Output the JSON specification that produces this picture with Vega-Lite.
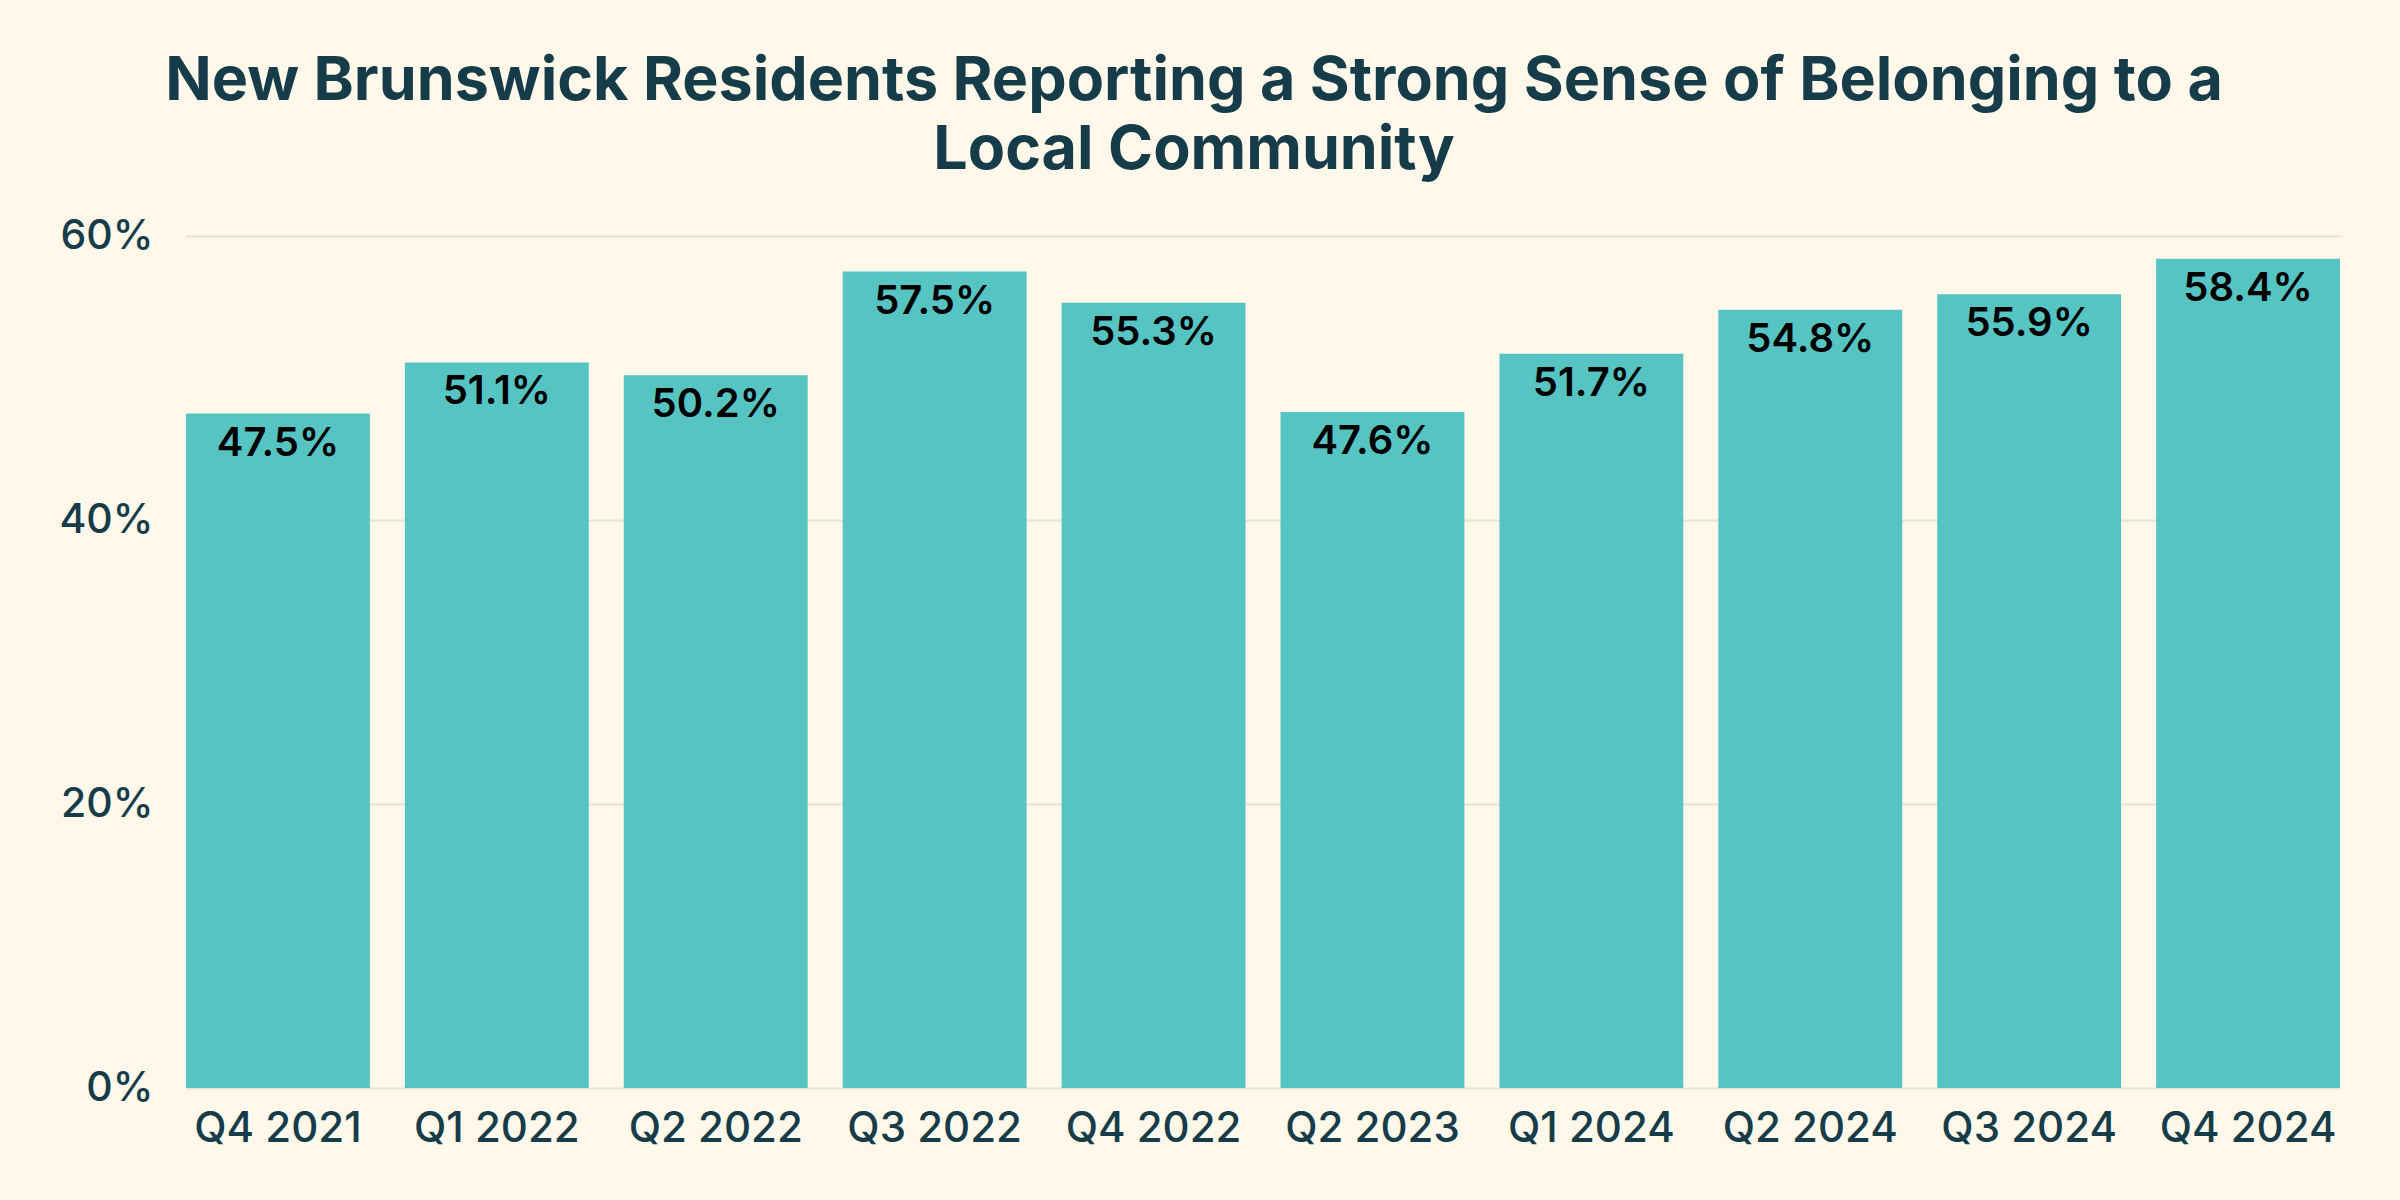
{
  "$schema": "https://vega.github.io/schema/vega-lite/v6.json",
  "autosize": "none",
  "width": 2154,
  "height": 852,
  "padding": {"left": 186, "top": 236, "right": 60, "bottom": 112},
  "background": "#fdf8e9",
  "title": {
    "text": ["New Brunswick Residents Reporting a Strong Sense of Belonging to a", "Local Community"],
    "anchor": "middle",
    "frame": "group",
    "dx": -69,
    "offset": 33,
    "font": "Inter",
    "fontSize": 61,
    "fontWeight": "bold",
    "lineHeight": 69,
    "color": "#163c4a"
  },
  "data": {
    "values": [
      {"quarter": "Q4 2021", "share": 0.475},
      {"quarter": "Q1 2022", "share": 0.511},
      {"quarter": "Q2 2022", "share": 0.502},
      {"quarter": "Q3 2022", "share": 0.575},
      {"quarter": "Q4 2022", "share": 0.553},
      {"quarter": "Q2 2023", "share": 0.476},
      {"quarter": "Q1 2024", "share": 0.517},
      {"quarter": "Q2 2024", "share": 0.548},
      {"quarter": "Q3 2024", "share": 0.559},
      {"quarter": "Q4 2024", "share": 0.584}
    ]
  },
  "encoding": {
    "x": {
      "field": "quarter",
      "type": "nominal",
      "sort": null,
      "scale": {"paddingInner": 0.16, "paddingOuter": 0},
      "axis": {
        "title": null,
        "labelAngle": 0,
        "ticks": false,
        "domain": false,
        "labelPadding": 20,
        "labelFont": "Inter",
        "labelFontSize": 42,
        "labelFontWeight": 500,
        "labelColor": "#163c4a"
      }
    },
    "y": {
      "field": "share",
      "type": "quantitative",
      "scale": {"domain": [0, 0.6]},
      "axis": {
        "title": null,
        "format": ".0%",
        "values": [0, 0.2, 0.4, 0.6],
        "ticks": false,
        "domain": false,
        "labelPadding": 33,
        "labelFont": "Inter",
        "labelFontSize": 41,
        "labelFontWeight": 500,
        "labelColor": "#163c4a",
        "gridColor": "#e6e3d6",
        "gridWidth": 2
      }
    }
  },
  "layer": [
    {"mark": {"type": "bar", "color": "#57c4c4"}},
    {
      "mark": {
        "type": "text",
        "baseline": "top",
        "dy": 10,
        "font": "Inter",
        "fontSize": 40,
        "fontWeight": 600,
        "color": "#000000"
      },
      "encoding": {"text": {"field": "share", "type": "quantitative", "format": ".1%"}}
    }
  ],
  "config": {"view": {"stroke": null}}
}
